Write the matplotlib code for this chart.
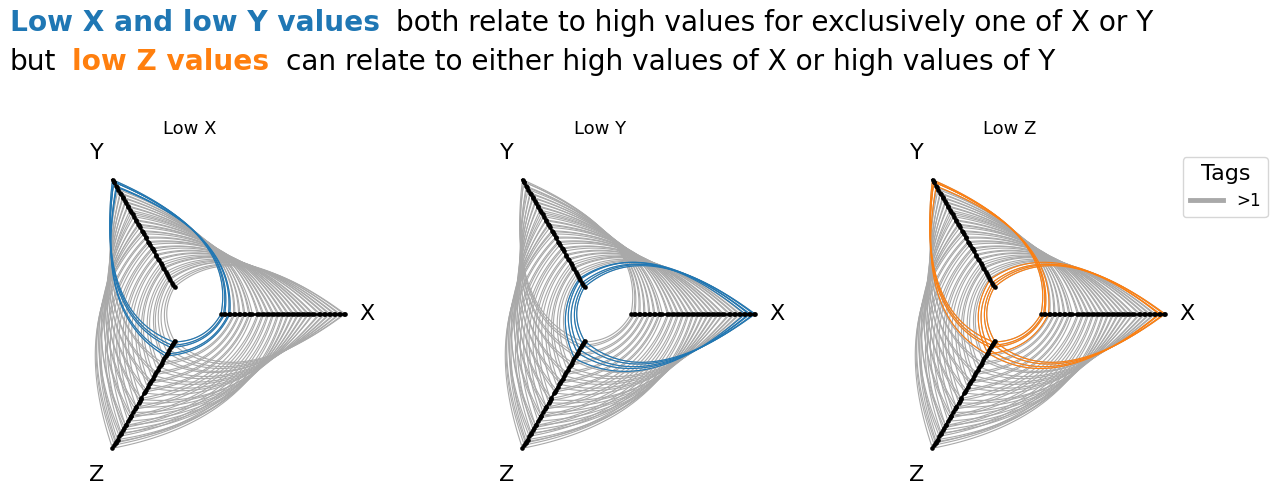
import matplotlib
matplotlib.use('Agg')
import matplotlib.pyplot as plt
import numpy as np
from matplotlib.lines import Line2D

# values of the three variables for each data point
x_vals = [0.01, 0.03, 0.04, 0.07, 0.08, 0.11, 0.12, 0.15, 0.16, 0.19,
          0.20, 0.23, 0.24, 0.26, 0.30, 0.31, 0.34, 0.35, 0.38, 0.39,
          0.42, 0.43, 0.46, 0.47, 0.50, 0.51, 0.54, 0.55, 0.58, 0.59,
          0.62, 0.63, 0.66, 0.67, 0.70, 0.71, 0.74, 0.75, 0.79, 0.80,
          0.83, 0.84, 0.87, 0.88, 0.91, 0.92, 0.95, 0.96, 0.99, 1.00]
y_vals = [0.99, 0.97, 0.97, 0.93, 0.92, 0.90, 0.87, 0.86, 0.83, 0.82,
          0.79, 0.78, 0.75, 0.74, 0.71, 0.69, 0.67, 0.65, 0.62, 0.61,
          0.58, 0.57, 0.55, 0.52, 0.51, 0.49, 0.46, 0.45, 0.42, 0.41,
          0.39, 0.36, 0.35, 0.33, 0.30, 0.29, 0.26, 0.25, 0.22, 0.20,
          0.18, 0.17, 0.14, 0.12, 0.10, 0.08, 0.07, 0.04, 0.02, 0.00]
z_vals = [0.02, 0.05, 0.07, 0.13, 0.15, 0.21, 0.23, 0.30, 0.32, 0.38,
          0.40, 0.46, 0.48, 0.54, 0.56, 0.62, 0.64, 0.70, 0.72, 0.79,
          0.81, 0.87, 0.89, 0.95, 0.97, 1.00, 0.94, 0.92, 0.86, 0.83,
          0.79, 0.75, 0.70, 0.67, 0.62, 0.58, 0.55, 0.49, 0.44, 0.41,
          0.36, 0.33, 0.28, 0.25, 0.19, 0.17, 0.12, 0.09, 0.04, 0.01]

axis_names = ['X', 'Y', 'Z']
axis_angles = [0, 120, 240]
panel_titles = ['Low X', 'Low Y', 'Low Z']
panel_axis = [0, 1, 2]
panel_n_low = [5, 5, 8]
panel_colors = ['#1f77b4', '#1f77b4', '#ff7f0e']

W, H = 1283, 496
fig = plt.figure(figsize=(W / 100, H / 100), dpi=100)

data = np.array([x_vals, y_vals, z_vals])
# radius along each axis: from 1 (min) to 5 (max)
rad = 1 + 4 * (data - data.min(axis=1, keepdims=True)) / np.ptp(data, axis=1, keepdims=True)


def edge(r0, a0, r1, a1, n=60):
    a0, a1 = np.deg2rad(a0), np.deg2rad(a1)
    p0 = np.array([r0 * np.cos(a0), r0 * np.sin(a0)])
    p2 = np.array([r1 * np.cos(a1), r1 * np.sin(a1)])
    am, rm = (a0 + a1) / 2, (r0 + r1) / 2
    p1 = np.array([rm * np.cos(am), rm * np.sin(am)])
    t = np.linspace(0, 1, n)[:, None]
    pts = (1 - t)**2 * p0 + 2 * (1 - t) * t * p1 + t**2 * p2
    return pts[:, 0], pts[:, 1]


def draw_point(ax, i, **kw):
    for k in range(3):
        j = (k + 1) % 3
        a0 = axis_angles[k]
        a1 = axis_angles[j] if j > 0 else 360
        ex, ey = edge(rad[k, i], a0, rad[j, i], a1)
        ax.plot(ex, ey, **kw)


scale = 31.0  # pixels per data unit
aw, ah = 360, 352
centers = [190, 600, 1010]
cy = 314
for p, cx in enumerate(centers):
    ax = fig.add_axes([(cx - aw / 2) / W, (H - cy - ah / 2) / H, aw / W, ah / H])
    ax.set_xlim(-aw / 2 / scale, aw / 2 / scale)
    ax.set_ylim(-ah / 2 / scale, ah / 2 / scale)
    ax.axis('off')

    for i in range(data.shape[1]):
        draw_point(ax, i, color='#a9a9a9', lw=0.8, zorder=1)
    low = np.argsort(data[panel_axis[p]])[:panel_n_low[p]]
    for i in low:
        draw_point(ax, i, color=panel_colors[p], lw=0.8, zorder=2)

    for k in range(3):
        a = np.deg2rad(axis_angles[k])
        ax.plot([np.cos(a), 5 * np.cos(a)], [np.sin(a), 5 * np.sin(a)],
                color='black', lw=1.8, zorder=3)
        ax.scatter(rad[k] * np.cos(a), rad[k] * np.sin(a), s=11,
                   color='black', lw=0, zorder=4)
        lr = 5.7 if k == 0 else 6.0
        ax.text(lr * np.cos(a), lr * np.sin(a), axis_names[k], fontsize=16,
                ha='center', va='center')
    ax.set_title(panel_titles[p], fontsize=13, pad=0)

fig.legend(handles=[Line2D([], [], color='#a9a9a9', lw=3.5)], labels=['>1'],
           title='Tags', title_fontsize=16, fontsize=12, handlelength=2.0,
           loc='upper right', bbox_to_anchor=(1276 / W, 1 - 149 / H))

# two-line headline with coloured parts
lines = [
    [('Low X and low Y values', '#1f77b4', 'bold'),
     ('both relate to high values for exclusively one of X or Y', 'black', 'normal')],
    [('but', 'black', 'normal'),
     ('low Z values', '#ff7f0e', 'bold'),
     ('can relate to either high values of X or high values of Y', 'black', 'normal')],
]
baselines = [31, 70]
renderer = fig.canvas.get_renderer()
for parts, base in zip(lines, baselines):
    xpos = 10
    for txt, col, wt in parts:
        t = fig.text(xpos / W, 1 - base / H, txt, color=col, fontweight=wt,
                     fontsize=20.2, va='baseline', ha='left')
        bb = t.get_window_extent(renderer=renderer)
        xpos = bb.x1 + 16

fig.savefig('out.png', dpi=100)
